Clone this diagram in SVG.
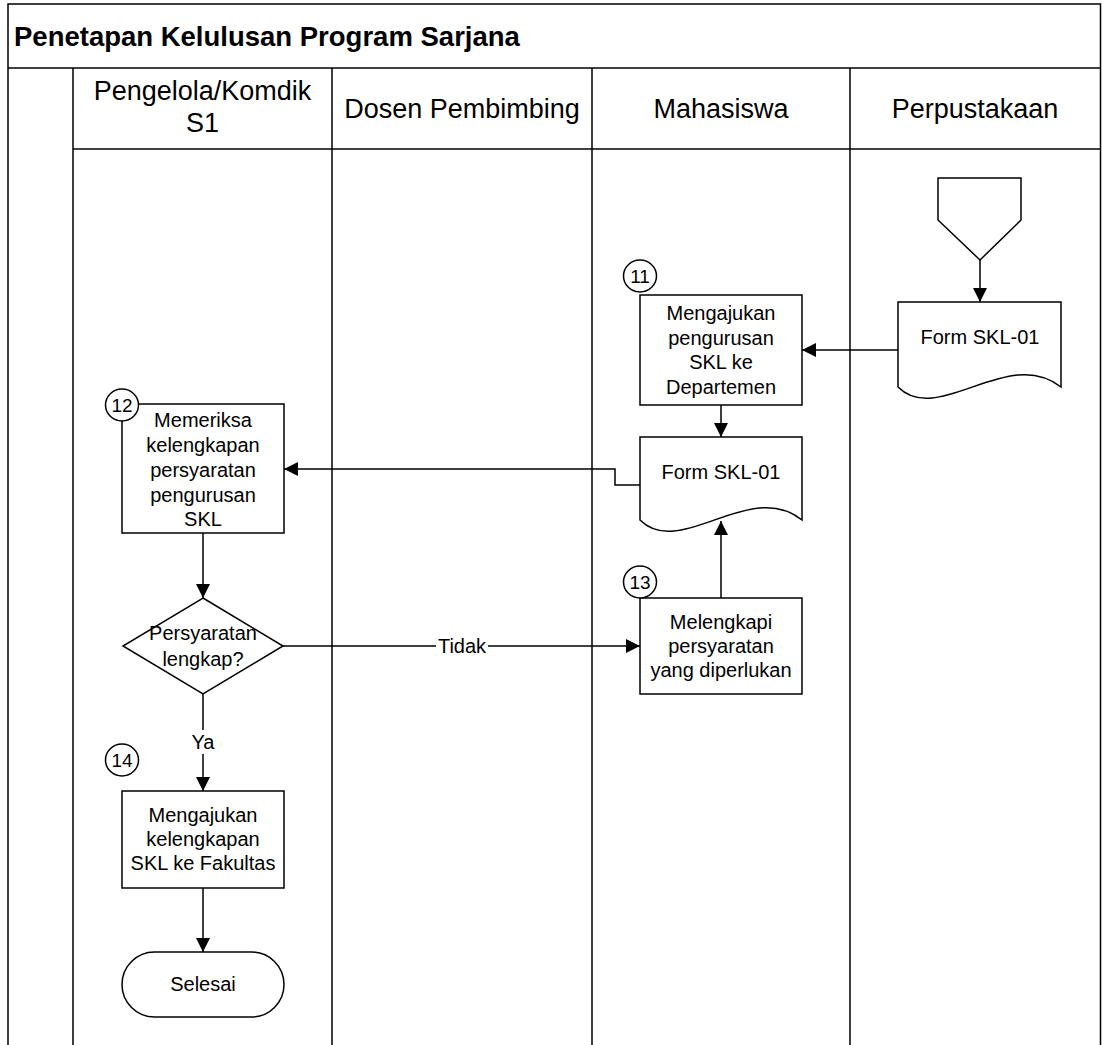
<svg xmlns="http://www.w3.org/2000/svg" width="1102" height="1045" viewBox="0 0 1102 1045">
<style>
text{font-family:"Liberation Sans",Arial,sans-serif;fill:#000;text-anchor:middle}
.title{font-weight:bold;font-size:27.5px;text-anchor:start}
.hdr{font-size:27px}
.t{font-size:20px}
.n{font-size:19px}
.grid{stroke:#000;stroke-width:1.5;fill:none}
.shape{fill:#fff;stroke:#000;stroke-width:1.5}
.conn{fill:none;stroke:#000;stroke-width:1.5}
</style>
<defs>
<marker id="arr" markerUnits="userSpaceOnUse" markerWidth="14" markerHeight="14" refX="14" refY="7" orient="auto">
<path d="M0,0 L14,7 L0,14 z" fill="#000"/>
</marker>
</defs>
<rect width="1102" height="1045" fill="#fff"/>
<g id="frame">
<path class="grid" d="M8,1046 V4 H1100.5 V1046"/>
<path class="grid" d="M8,68 H1100.5"/>
<path class="grid" d="M73,149 H1100.5"/>
<path class="grid" d="M73,68 V1046 M332,68 V1046 M592,68 V1046 M850,68 V1046"/>
<text class="title" x="14" y="46">Penetapan Kelulusan Program Sarjana</text>
<text class="hdr" x="202.5" y="100">Pengelola/Komdik</text>
<text class="hdr" x="202.5" y="132">S1</text>
<text class="hdr" x="462" y="118">Dosen Pembimbing</text>
<text class="hdr" x="721" y="118">Mahasiswa</text>
<text class="hdr" x="975" y="118">Perpustakaan</text>
</g>
<g id="connectors">
<path class="conn" d="M980,260 V302" marker-end="url(#arr)"/>
<path class="conn" d="M898,350 H802" marker-end="url(#arr)"/>
<path class="conn" d="M721,405 V437" marker-end="url(#arr)"/>
<path class="conn" d="M640,485 H615 V469 H284" marker-end="url(#arr)"/>
<path class="conn" d="M203,533 V598" marker-end="url(#arr)"/>
<path class="conn" d="M283,646 H640" marker-end="url(#arr)"/>
<path class="conn" d="M721,598 V521" marker-end="url(#arr)"/>
<path class="conn" d="M203,694 V791" marker-end="url(#arr)"/>
<path class="conn" d="M203,888 V952" marker-end="url(#arr)"/>
<rect x="436" y="634" width="52" height="24" fill="#fff"/>
<text class="t" x="462" y="653">Tidak</text>
<rect x="190" y="730" width="26" height="24" fill="#fff"/>
<text class="t" x="203" y="749">Ya</text>
</g>
<g id="offpage">
<polygon class="shape" points="938,178 1021,178 1021,220 980,260 938,220"/>
</g>
<g id="doc-perpustakaan">
<path class="shape" d="M898,302 H1061 V387 C1008,345 938,427 898,387 Z"/>
<text class="t" x="980" y="344">Form SKL-01</text>
</g>
<g id="step11">
<rect class="shape" x="640" y="295" width="162" height="110"/>
<text class="t" x="721" y="320">Mengajukan</text>
<text class="t" x="721" y="345">pengurusan</text>
<text class="t" x="721" y="369">SKL ke</text>
<text class="t" x="721" y="394">Departemen</text>
<ellipse class="shape" cx="640" cy="276" rx="16.5" ry="16"/>
<text class="n" x="640" y="283">11</text>
</g>
<g id="doc-mahasiswa">
<path class="shape" d="M640,437 H802 V520 C750,478 680,560 640,520 Z"/>
<text class="t" x="721" y="479">Form SKL-01</text>
</g>
<g id="step12">
<rect class="shape" x="122" y="404" width="162" height="129"/>
<text class="t" x="203" y="427">Memeriksa</text>
<text class="t" x="203" y="452">kelengkapan</text>
<text class="t" x="203" y="477">persyaratan</text>
<text class="t" x="203" y="502">pengurusan</text>
<text class="t" x="203" y="526">SKL</text>
<ellipse class="shape" cx="122" cy="405" rx="16.5" ry="16"/>
<text class="n" x="122" y="412">12</text>
</g>
<g id="decision">
<polygon class="shape" points="203,598 283,646 203,694 123,646"/>
<text class="t" x="203" y="640">Persyaratan</text>
<text class="t" x="203" y="666">lengkap?</text>
</g>
<g id="step13">
<rect class="shape" x="640" y="598" width="162" height="96"/>
<text class="t" x="721" y="629">Melengkapi</text>
<text class="t" x="721" y="653">persyaratan</text>
<text class="t" x="721" y="677">yang diperlukan</text>
<ellipse class="shape" cx="640" cy="582" rx="16.5" ry="16"/>
<text class="n" x="640" y="589">13</text>
</g>
<g id="step14">
<ellipse class="shape" cx="122" cy="760" rx="16.5" ry="16"/>
<text class="n" x="122" y="767">14</text>
<rect class="shape" x="122" y="791" width="162" height="97"/>
<text class="t" x="203" y="822">Mengajukan</text>
<text class="t" x="203" y="846">kelengkapan</text>
<text class="t" x="203" y="870">SKL ke Fakultas</text>
</g>
<g id="selesai">
<rect class="shape" x="122" y="952" width="162" height="65" rx="32.5" ry="32.5"/>
<text class="t" x="203" y="991">Selesai</text>
</g>
</svg>
